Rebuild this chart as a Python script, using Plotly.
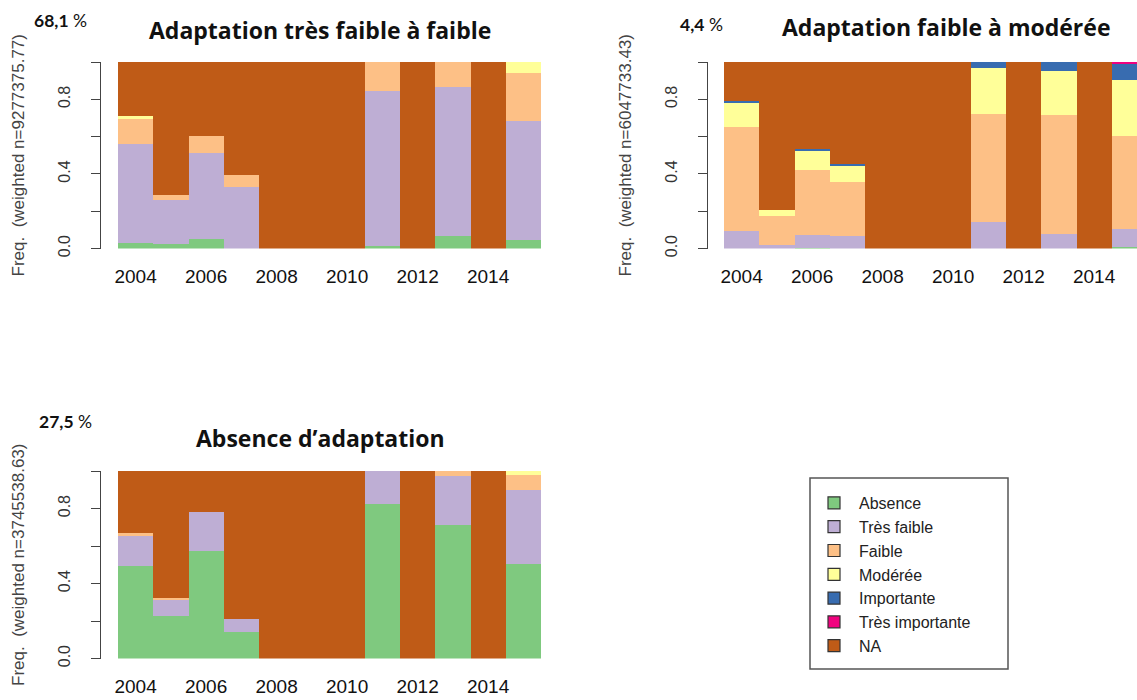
import plotly.graph_objects as go

# ---------------- data ----------------
years = [2004, 2005, 2006, 2007, 2008, 2009, 2010, 2011, 2012, 2013, 2014, 2015]
year_ticks = [2004, 2006, 2008, 2010, 2012, 2014]
categories = ["Absence", "Très faible", "Faible", "Modérée", "Importante", "Très importante", "NA"]
colors = ["#7FC97F", "#BEAED4", "#FDC086", "#FFFF99", "#386CB0", "#F0027F", "#BF5B17"]

# Panel 1 : Adaptation très faible à faible
p1_absence = [0.032, 0.025, 0.050, 0.000, 0, 0, 0, 0.013, 0, 0.068, 0, 0.045]
p1_tres_faible = [0.531, 0.233, 0.464, 0.332, 0, 0, 0, 0.831, 0, 0.799, 0, 0.638]
p1_faible = [0.132, 0.031, 0.090, 0.060, 0, 0, 0, 0.156, 0, 0.133, 0, 0.260]
p1_moderee = [0.015, 0.000, 0.000, 0.000, 0, 0, 0, 0.000, 0, 0.000, 0, 0.057]
p1_importante = [0, 0, 0, 0, 0, 0, 0, 0, 0, 0, 0, 0]
p1_tres_importante = [0, 0, 0, 0, 0, 0, 0, 0, 0, 0, 0, 0]
p1_na = [0.290, 0.711, 0.396, 0.608, 1, 1, 1, 0.000, 1, 0.000, 1, 0.000]

# Panel 2 : Adaptation faible à modérée
p2_absence = [0.000, 0.000, 0.005, 0.000, 0, 0, 0, 0.000, 0, 0.000, 0, 0.008]
p2_tres_faible = [0.095, 0.020, 0.067, 0.065, 0, 0, 0, 0.143, 0, 0.077, 0, 0.094]
p2_faible = [0.557, 0.156, 0.347, 0.290, 0, 0, 0, 0.579, 0, 0.640, 0, 0.499]
p2_moderee = [0.129, 0.032, 0.108, 0.090, 0, 0, 0, 0.246, 0, 0.234, 0, 0.302]
p2_importante = [0.009, 0.000, 0.005, 0.010, 0, 0, 0, 0.032, 0, 0.049, 0, 0.091]
p2_tres_importante = [0, 0, 0, 0, 0, 0, 0, 0, 0, 0, 0, 0.006]
p2_na = [0.210, 0.792, 0.468, 0.545, 1, 1, 1, 0.000, 1, 0.000, 1, 0.000]

# Panel 3 : Absence d'adaptation
p3_absence = [0.495, 0.228, 0.573, 0.139, 0, 0, 0, 0.822, 0, 0.710, 0, 0.505]
p3_tres_faible = [0.158, 0.089, 0.206, 0.071, 0, 0, 0, 0.178, 0, 0.265, 0, 0.392]
p3_faible = [0.014, 0.007, 0.000, 0.000, 0, 0, 0, 0.000, 0, 0.025, 0, 0.083]
p3_moderee = [0, 0, 0, 0, 0, 0, 0, 0, 0, 0, 0, 0.020]
p3_importante = [0, 0, 0, 0, 0, 0, 0, 0, 0, 0, 0, 0]
p3_tres_importante = [0, 0, 0, 0, 0, 0, 0, 0, 0, 0, 0, 0]
p3_na = [0.333, 0.676, 0.221, 0.790, 1, 1, 1, 0.000, 1, 0.000, 1, 0.000]

panel_titles = ["Adaptation très faible à faible", "Adaptation faible à modérée", "Absence d’adaptation"]
panel_shares = ["68,1", "4,4", "27,5"]
panel_ylabels = ["Freq.  (weighted n=9277375.77)", "Freq.  (weighted n=6047733.43)",
                 "Freq.  (weighted n=3745538.63)"]

panels = [
    [p1_absence, p1_tres_faible, p1_faible, p1_moderee, p1_importante, p1_tres_importante, p1_na],
    [p2_absence, p2_tres_faible, p2_faible, p2_moderee, p2_importante, p2_tres_importante, p2_na],
    [p3_absence, p3_tres_faible, p3_faible, p3_moderee, p3_importante, p3_tres_importante, p3_na],
]

# ---------------- layout helpers ----------------
W, H = 1137, 700


def px(x):
    return x / W


def py(y):
    return 1 - y / H


# plot regions in pixels: (left, right, top, bottom, axis line x)
regions = [
    (118, 541, 62, 248.5, 100),
    (724, 1137, 62, 248.5, 707),
    (118, 541, 471, 658.5, 100),
]
bar_px = (541 - 118) / 12.0

fig = go.Figure()

for i, series in enumerate(panels):
    xa = "x" if i == 0 else f"x{i+1}"
    ya = "y" if i == 0 else f"y{i+1}"
    for name, col, vals in zip(categories, colors, series):
        fig.add_trace(go.Bar(
            x=years, y=vals, width=1.0, name=name,
            marker=dict(color=col, line=dict(width=0)),
            showlegend=False, xaxis=xa, yaxis=ya,
            hovertemplate=name + " %{x}: %{y:.3f}<extra></extra>",
        ))

# legend entries (zero-height bars so that only the legend keys show)
for name, col in zip(categories, colors):
    fig.add_trace(go.Bar(
        x=[years[0]], y=[0], name=name,
        marker=dict(color=col, line=dict(color="#333333", width=1.2)),
        showlegend=True, xaxis="x", yaxis="y", hoverinfo="skip",
    ))

layout = dict(
    width=W, height=H,
    margin=dict(l=0, r=0, t=0, b=0, autoexpand=False),
    paper_bgcolor="white", plot_bgcolor="white",
    barmode="stack", bargap=0,
    showlegend=True,
    legend=dict(
        x=px(809), y=py(486), xanchor="left", yanchor="top",
        traceorder="normal", bgcolor="rgba(0,0,0,0)", borderwidth=0,
        itemwidth=40,
        font=dict(family="Liberation Sans, Arial, sans-serif", size=16, color="#222222"),
        itemclick=False, itemdoubleclick=False,
    ),
    annotations=[], shapes=[],
)

for i, (l, r, t, b, axx) in enumerate(regions):
    sx = "" if i == 0 else str(i + 1)
    xr_end = 2003.5 + (r - l) / bar_px
    layout[f"xaxis{sx}"] = dict(
        domain=[px(l), px(r)], anchor=f"y{sx}", automargin=False,
        range=[2003.5, xr_end], tickvals=year_ticks,
        showgrid=False, zeroline=False, showline=False, ticks="",
        ticklabelstandoff=14,
        tickfont=dict(family="Liberation Sans, Arial, sans-serif", size=19, color="#111111"),
        fixedrange=True,
    )
    layout[f"yaxis{sx}"] = dict(
        domain=[py(b), py(t)], anchor="free", position=px(axx), automargin=False,
        range=[0, 1], tickvals=[0, 0.2, 0.4, 0.6, 0.8, 1.0],
        ticktext=["0.0", "", "0.4", "", "0.8", ""],
        tickangle=-90, ticks="outside", ticklen=9, tickwidth=1.3, tickcolor="#444444",
        showline=True, linecolor="#444444", linewidth=1.3,
        showgrid=False, zeroline=False, ticklabelstandoff=14,
        tickfont=dict(family="Liberation Sans, Arial, sans-serif", size=16, color="#333333"),
        title=dict(text=panel_ylabels[i], standoff=26,
                   font=dict(family="Liberation Sans, Arial, sans-serif", size=17, color="#444444")),
        fixedrange=True,
    )

# titles and shares
title_pos = [(320, 30), (946, 27), (320, 438)]
share_pos = [(32, 20), (678, 25), (37, 421)]
for i in range(3):
    tx, ty = title_pos[i]
    layout["annotations"].append(dict(
        x=px(tx), y=py(ty), xref="paper", yref="paper", showarrow=False,
        xanchor="center", yanchor="middle", text="<b>" + panel_titles[i] + "</b>",
        font=dict(family="Open Sans, Lato, sans-serif", size=23, color="#111111"),
    ))
    sx_, sy_ = share_pos[i]
    layout["annotations"].append(dict(
        x=px(sx_), y=py(sy_), xref="paper", yref="paper", showarrow=False,
        xanchor="left", yanchor="middle",
        text="<b>" + panel_shares[i] + "</b> %",
        font=dict(family="Lato, Open Sans, sans-serif", size=17.5, color="#111111"),
    ))

# legend frame
layout["shapes"].append(dict(
    type="rect", xref="paper", yref="paper",
    x0=px(810), x1=px(1008), y0=py(669), y1=py(478),
    line=dict(color="#555555", width=1.5), fillcolor="rgba(0,0,0,0)",
))

fig.update_layout(**layout)
fig.write_html(
    "out.html",
    config={"displayModeBar": False},
    post_script="document.body.style.margin='0';document.body.style.padding='0';",
)
